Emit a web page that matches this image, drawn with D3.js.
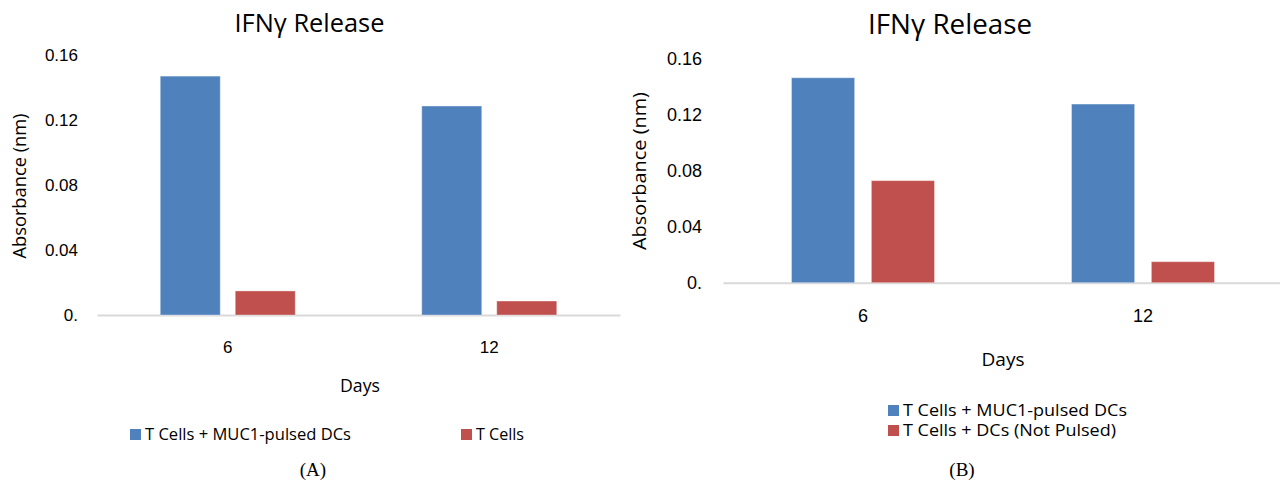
<!DOCTYPE html>
<html>
<head>
<meta charset="utf-8">
<script src="https://cdn.jsdelivr.net/npm/d3@7"></script>
<style>
  body { margin: 0; background: #fff; }
  svg { display: block; font-family: "Open Sans", "Noto Sans", sans-serif; }
  .tick text { fill: #000; }
</style>
</head>
<body>
<svg id="chart" width="1280" height="482"></svg>
<script>
// Data
var days = ["6", "12"];
var tickValues = [0, 0.04, 0.08, 0.12, 0.16];
var tickLabels = ["0.", "0.04", "0.08", "0.12", "0.16"];
var seriesA = ["T Cells + MUC1-pulsed DCs", "T Cells"];
var pulsedA = [0.147, 0.1286];
var tCellsA = [0.0148, 0.0086];
var seriesB = ["T Cells + MUC1-pulsed DCs", "T Cells + DCs (Not Pulsed)"];
var pulsedB = [0.1464, 0.1276];
var notPulsedB = [0.0729, 0.015];
var colors = ["#4F81BD", "#C0504D"];

var svg = d3.select("#chart");

function drawChart(cfg) {
    var g = svg.append("g");
    var y = d3.scaleLinear().domain([0, 0.16]).range([cfg.base, cfg.top]);
    var x = d3.scaleBand().domain(days).range([cfg.left, cfg.right]);
    // bars inside each day group
    var inner = (x.bandwidth() - cfg.groupW) / 2;
    var xs = d3.scaleBand().domain(d3.range(cfg.series.length))
        .range([inner, inner + cfg.groupW]).paddingInner(cfg.gap);

    //Title
    g.append("text").attr("x", cfg.titleX).attr("y", cfg.titleY)
        .attr("text-anchor", "middle").attr("font-size", cfg.titleSize)
        .attr("textLength", cfg.titleW).attr("lengthAdjust", "spacingAndGlyphs")
        .text("IFNγ Release");

    //Y axis labels only
    var yAxis = g.append("g").attr("transform", "translate(" + cfg.tickRight + ",0)")
        .call(d3.axisLeft(y).tickValues(tickValues).tickSize(0).tickPadding(0)
            .tickFormat(function(d, i) { return tickLabels[i]; }));
    yAxis.select(".domain").remove();
    yAxis.selectAll("text").attr("font-size", cfg.tickSize).attr("font-family", null);

    //X axis
    var xAxis = g.append("g").attr("transform", "translate(0," + cfg.base + ")")
        .call(d3.axisBottom(x).tickSize(0).tickSizeOuter(0).tickPadding(cfg.catPad));
    xAxis.select(".domain").attr("stroke", "#d9d9d9").attr("stroke-width", 2);
    xAxis.selectAll("text").attr("font-size", cfg.tickSize).attr("font-family", null);

    //Bars
    var groups = g.selectAll(".day").data(days).enter().append("g")
        .attr("transform", function(d) { return "translate(" + x(d) + ",0)"; });
    groups.selectAll("rect").data(function(d, i) {
        return cfg.values.map(function(v, s) { return { s: s, v: v[i] }; });
    }).enter().append("rect")
        .attr("x", function(d) { return xs(d.s); })
        .attr("width", xs.bandwidth())
        .attr("y", function(d) { return y(d.v); })
        .attr("height", function(d) { return cfg.base - y(d.v); })
        .attr("fill", function(d) { return colors[d.s]; })
        .attr("stroke", "#fff").attr("stroke-opacity", 0.35).attr("stroke-width", 1);

    //Axis titles
    g.append("text").attr("transform", "translate(" + cfg.yLabX + "," + cfg.yLabY + ") rotate(-90)")
        .attr("text-anchor", "middle").attr("dominant-baseline", "central")
        .attr("font-size", cfg.labSize).attr("textLength", cfg.yLabW)
        .attr("lengthAdjust", "spacingAndGlyphs").text("Absorbance (nm)");
    g.append("text").attr("x", cfg.daysX).attr("y", cfg.daysY)
        .attr("text-anchor", "middle").attr("font-size", cfg.labSize)
        .attr("textLength", cfg.daysW).attr("lengthAdjust", "spacingAndGlyphs").text("Days");

    //Legend
    cfg.legend.forEach(function(l, i) {
        g.append("rect").attr("x", l.x).attr("y", l.y - 11).attr("width", 11).attr("height", 11)
            .attr("fill", colors[i]);
        g.append("text").attr("x", l.x + 15).attr("y", l.y)
            .attr("font-size", cfg.legSize).attr("textLength", l.w)
            .attr("lengthAdjust", "spacingAndGlyphs").text(cfg.series[i]);
    });

    //Panel letter
    g.append("text").attr("x", cfg.panelX).attr("y", 476).attr("text-anchor", "middle")
        .attr("font-family", "'Liberation Serif', 'DejaVu Serif', serif").attr("font-size", 19)
        .text(cfg.panel);
}

drawChart({
    series: seriesA, values: [pulsedA, tCellsA],
    base: 315, top: 55, left: 97, right: 620, groupW: 135, gap: 0.2,
    titleX: 309.5, titleY: 32, titleSize: 26, titleW: 150,
    tickRight: 78, tickSize: 17, catPad: 26,
    yLabX: 19, yLabY: 186, yLabW: 145, labSize: 18,
    daysX: 360, daysY: 392, daysW: 40,
    legSize: 16, legend: [{ x: 130, y: 440, w: 206 }, { x: 461, y: 440, w: 48 }],
    panelX: 313, panel: "(A)"
});

drawChart({
    series: seriesB, values: [pulsedB, notPulsedB],
    base: 282.7, top: 58.7, left: 723, right: 1283, groupW: 143, gap: 0.21,
    titleX: 950, titleY: 34, titleSize: 27, titleW: 164,
    tickRight: 702, tickSize: 18, catPad: 27,
    yLabX: 639, yLabY: 171, yLabW: 158, labSize: 19,
    daysX: 1003, daysY: 366, daysW: 43,
    legSize: 16, legend: [{ x: 888, y: 416, w: 224 }, { x: 888, y: 436, w: 213 }],
    panelX: 962, panel: "(B)"
});
</script>
</body>
</html>
